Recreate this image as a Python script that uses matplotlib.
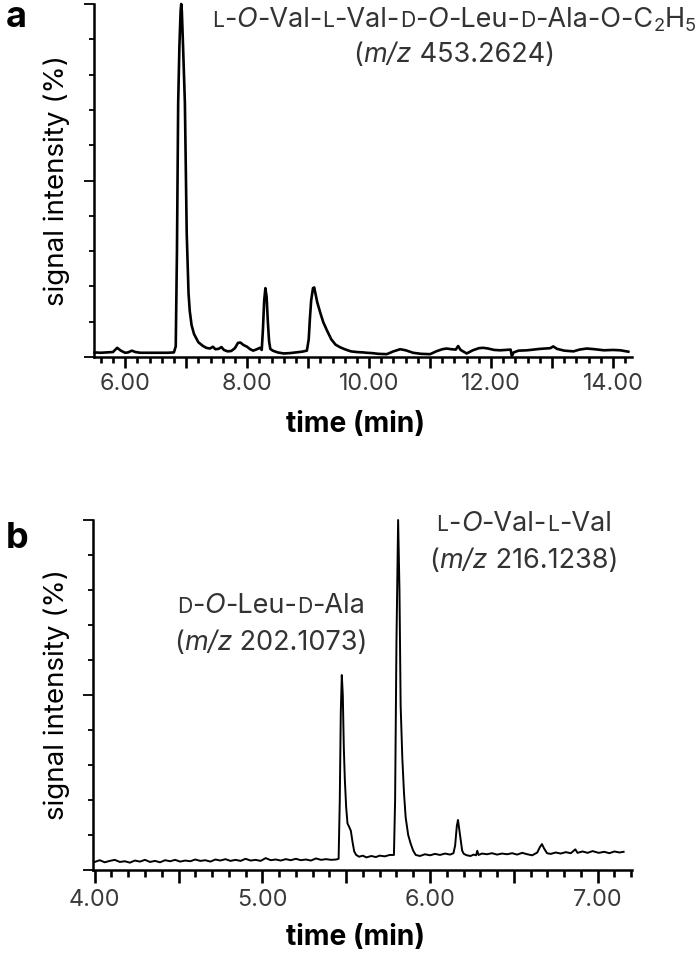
import matplotlib
matplotlib.use('Agg')
import matplotlib.pyplot as plt
from matplotlib.ticker import MultipleLocator, FuncFormatter, NullFormatter
from matplotlib.font_manager import FontProperties

FONT = 'Inter'
plt.rcParams['font.family'] = [FONT, 'DejaVu Sans']

W, H, DPI = 700, 961, 100

# ---------------- data: panel a ----------------
time_a = [5.50, 5.60, 5.70, 5.80, 5.87, 5.93, 6.00, 6.05, 6.11, 6.17, 6.25, 6.40, 6.55, 6.70,
          6.80, 6.83, 6.85, 6.87, 6.89, 6.91, 6.92, 6.93, 6.95, 6.98, 7.00, 7.01, 7.03, 7.04,
          7.06, 7.09, 7.13, 7.20, 7.27, 7.33, 7.39, 7.44, 7.48, 7.53, 7.58, 7.62, 7.68, 7.74,
          7.80, 7.85, 7.89, 7.94, 8.00, 8.05, 8.10, 8.16, 8.21, 8.24, 8.26, 8.28, 8.30, 8.32,
          8.34, 8.36, 8.38, 8.42, 8.50, 8.60, 8.70, 8.80, 8.90, 8.98, 9.01, 9.03, 9.05, 9.08,
          9.10, 9.12, 9.15, 9.20, 9.25, 9.31, 9.38, 9.45, 9.52, 9.60, 9.70, 9.80, 9.90, 9.96,
          10.05, 10.15, 10.29, 10.40, 10.51, 10.60, 10.72, 10.85, 11.00, 11.10, 11.20, 11.27,
          11.35, 11.42, 11.46, 11.50, 11.60, 11.70, 11.80, 11.87, 11.95, 12.05, 12.15, 12.25,
          12.32, 12.34, 12.37, 12.45, 12.59, 12.70, 12.80, 12.90, 12.97, 13.02, 13.08, 13.20,
          13.35, 13.45, 13.57, 13.70, 13.85, 14.00, 14.12, 14.25]
signal_a = [1.3, 1.2, 1.3, 1.4, 2.6, 1.8, 1.2, 1.3, 1.8, 1.4, 1.2, 1.2, 1.2, 1.2,
            1.3, 3.0, 30.0, 72.0, 88.0, 98.0, 100.0, 98.0, 88.0, 72.0, 48.0, 35.0, 24.0, 18.0,
            13.0, 9.0, 6.5, 4.2, 3.2, 2.6, 2.4, 2.9, 2.2, 2.3, 2.8, 2.0, 1.6, 1.7,
            2.5, 4.0, 4.1, 3.4, 2.9, 2.2, 1.8, 2.2, 2.6, 2.0, 8.0, 16.0, 19.5, 17.0,
            10.0, 4.5, 2.3, 1.8, 1.3, 1.0, 1.1, 1.3, 1.5, 1.8, 5.0, 11.0, 16.0, 19.5,
            19.7, 18.0, 15.5, 12.5, 9.8, 7.5, 5.0, 3.5, 2.8, 2.2, 1.6, 1.4, 1.3, 1.2,
            1.1, 0.9, 0.8, 1.6, 2.2, 1.9, 1.2, 0.9, 0.8, 1.6, 2.2, 2.4,
            2.2, 2.1, 3.1, 2.0, 1.0, 1.9, 2.5, 2.6, 2.4, 2.0, 1.9, 2.0,
            2.1, 0.3, 1.3, 1.8, 1.9, 2.1, 2.3, 2.4, 2.5, 3.0, 2.3, 1.8,
            1.6, 2.1, 2.4, 2.2, 1.9, 2.0, 1.9, 1.5]

# ---------------- data: panel b ----------------
time_b = [4.00, 4.03, 4.06, 4.09, 4.12, 4.15, 4.18, 4.21, 4.24, 4.27, 4.30, 4.33, 4.36, 4.39,
          4.42, 4.45, 4.48, 4.51, 4.54, 4.57, 4.60, 4.63, 4.66, 4.69, 4.72, 4.75, 4.78, 4.81,
          4.84, 4.87, 4.90, 4.93, 4.96, 4.99, 5.02, 5.05, 5.08, 5.11, 5.14, 5.17, 5.20, 5.23,
          5.26, 5.29, 5.32, 5.35, 5.38, 5.41, 5.44, 5.455, 5.462, 5.468, 5.474, 5.480, 5.486,
          5.492, 5.500, 5.508, 5.518, 5.528, 5.538, 5.548, 5.560, 5.577, 5.60, 5.62, 5.65,
          5.677, 5.70, 5.73, 5.76, 5.785, 5.792, 5.800, 5.810, 5.818, 5.825, 5.835, 5.845,
          5.855, 5.870, 5.885, 5.900, 5.915, 5.94, 5.97, 6.00, 6.03, 6.06, 6.09, 6.12, 6.140,
          6.150, 6.160, 6.167, 6.175, 6.183, 6.192, 6.202, 6.22, 6.242, 6.26, 6.275, 6.282,
          6.29, 6.31, 6.34, 6.37, 6.40, 6.43, 6.46, 6.49, 6.52, 6.55, 6.58, 6.61, 6.64, 6.655,
          6.668, 6.68, 6.698, 6.72, 6.75, 6.78, 6.81, 6.84, 6.867, 6.88, 6.91, 6.94, 6.97,
          7.006, 7.04, 7.07, 7.10, 7.13, 7.155]
signal_b = [2.3, 2.8, 2.2, 2.6, 2.9, 2.3, 2.5, 2.1, 2.7, 2.4, 2.9, 2.3, 2.6, 2.2,
            2.8, 2.5, 2.9, 2.4, 2.7, 2.5, 3.0, 2.6, 2.8, 2.4, 3.0, 2.7, 3.1, 2.6,
            2.9, 2.6, 3.2, 2.7, 2.9, 2.6, 3.4, 2.8, 3.0, 2.7, 3.1, 2.8, 3.2, 2.8,
            3.0, 2.7, 3.3, 2.9, 3.1, 2.9, 3.0, 3.2, 20.0, 45.0, 55.7, 50.0, 35.0,
            26.0, 18.0, 13.3, 12.3, 11.2, 8.0, 5.3, 4.3, 3.8, 4.1, 3.6, 4.0,
            3.7, 4.1, 3.9, 4.3, 4.3, 20.0, 65.0, 100.0, 80.0, 47.0, 32.0, 22.0,
            15.0, 10.0, 7.5, 5.5, 4.3, 4.0, 4.5, 4.2, 4.6, 4.3, 4.7, 4.4, 4.8,
            7.0, 12.5, 14.3, 11.5, 8.5, 5.5, 4.6, 4.2, 4.0, 4.4, 4.2, 5.5,
            4.3, 4.7, 4.5, 4.8, 4.4, 4.7, 4.5, 4.8, 4.4, 4.9, 4.5, 4.2, 5.0, 6.5,
            7.4, 6.2, 4.8, 4.6, 5.0, 4.7, 5.1, 4.8, 5.9, 4.9, 5.3, 4.9, 5.4,
            4.9, 5.2, 4.8, 5.3, 5.0, 5.2]

# ---------------- text ----------------
SC = 0.78   # small-caps scale
SUB = 0.68  # subscript scale
label_a_line1 = [('L', SC, 'normal', 0), ('-', 1, 'normal', 0), ('O', 1, 'italic', 0),
                 ('-Val-', 1, 'normal', 0), ('L', SC, 'normal', 0), ('-Val-', 1, 'normal', 0),
                 ('D', SC, 'normal', 0), ('-', 1, 'normal', 0), ('O', 1, 'italic', 0),
                 ('-Leu-', 1, 'normal', 0), ('D', SC, 'normal', 0), ('-Ala-O-C', 1, 'normal', 0),
                 ('2', SUB, 'normal', -0.15), ('H', 1, 'normal', 0), ('5', SUB, 'normal', -0.15)]
label_a_line2 = [('(', 1, 'normal', 0), ('m/z', 1, 'italic', 0), (' 453.2624)', 1, 'normal', 0)]
label_b1_line1 = [('D', SC, 'normal', 0), ('-', 1, 'normal', 0), ('O', 1, 'italic', 0),
                  ('-Leu-', 1, 'normal', 0), ('D', SC, 'normal', 0), ('-Ala', 1, 'normal', 0)]
label_b1_line2 = [('(', 1, 'normal', 0), ('m/z', 1, 'italic', 0), (' 202.1073)', 1, 'normal', 0)]
label_b2_line1 = [('L', SC, 'normal', 0), ('-', 1, 'normal', 0), ('O', 1, 'italic', 0),
                  ('-Val-', 1, 'normal', 0), ('L', SC, 'normal', 0), ('-Val', 1, 'normal', 0)]
label_b2_line2 = [('(', 1, 'normal', 0), ('m/z', 1, 'italic', 0), (' 216.1238)', 1, 'normal', 0)]

TICK_COLOR = '#3a3a3a'
ANNO_COLOR = '#333333'
TICK_SIZE = 16.8
ANNO_SIZE = 19.5
XLAB_SIZE = 20.3
YLAB_SIZE = 20
PANEL_SIZE = 26

fig = plt.figure(figsize=(W / DPI, H / DPI), dpi=DPI)


def px_axes(l, t, r, b):
    return fig.add_axes([l / W, 1 - b / H, (r - l) / W, (b - t) / H])


def style_axes(ax, xlim, minor, major, label_step, maj_len, min_len, pad):
    ax.set_xlim(*xlim)
    ax.set_ylim(0, 100)
    for s in ['top', 'right']:
        ax.spines[s].set_visible(False)
    for s in ['left', 'bottom']:
        ax.spines[s].set_linewidth(1.8)
    ax.xaxis.set_major_locator(MultipleLocator(major))
    ax.xaxis.set_minor_locator(MultipleLocator(minor))

    def fmt(v, p):
        k = v / label_step
        return f'{v:.2f}' if abs(k - round(k)) < 1e-6 else ''
    ax.xaxis.set_major_formatter(FuncFormatter(fmt))
    ax.yaxis.set_major_locator(MultipleLocator(50))
    ax.yaxis.set_minor_locator(MultipleLocator(10))
    ax.yaxis.set_major_formatter(NullFormatter())
    ax.tick_params(axis='x', which='major', direction='out', length=maj_len, width=1.9,
                   labelsize=TICK_SIZE, pad=pad, labelcolor=TICK_COLOR)
    ax.tick_params(axis='x', which='minor', direction='out', length=min_len, width=1.9)
    ax.tick_params(axis='y', which='major', direction='out', length=7, width=1.3)
    ax.tick_params(axis='y', which='minor', direction='out', length=3.5, width=1.3)


ax_a = px_axes(94, 4, 632, 357)
ax_b = px_axes(93, 520, 632, 870)

ax_a.plot(time_a, signal_a, color='black', lw=1.9, clip_on=False)
ax_b.plot(time_b, signal_b, color='black', lw=1.4, clip_on=False)

style_axes(ax_a, (5.49, 14.31), 0.2, 1.0, 2.0, 8, 4.3, 3.3)
style_axes(ax_b, (3.99, 7.205), 0.1, 0.5, 1.0, 9, 5, 4.8)

renderer = fig.canvas.get_renderer()


def rich_line(pieces, xc, yb, size, color):
    widths = []
    for s, sc, st, dy in pieces:
        fp = FontProperties(family=[FONT, 'DejaVu Sans'], size=size * sc, style=st)
        w1, _, _ = renderer.get_text_width_height_descent('H' + s + 'H', fp, ismath=False)
        w2, _, _ = renderer.get_text_width_height_descent('HH', fp, ismath=False)
        widths.append(w1 - w2)
    x = xc - sum(widths) / 2
    for (s, sc, st, dy), w in zip(pieces, widths):
        y = yb - dy * size * DPI / 72
        fig.text(x / W, 1 - y / H, s, fontsize=size * sc, style=st, ha='left',
                 va='baseline', color=color)
        x += w


rich_line(label_a_line1, 454, 27, ANNO_SIZE, ANNO_COLOR)
rich_line(label_a_line2, 454, 62, ANNO_SIZE, ANNO_COLOR)
rich_line(label_b1_line1, 271, 613, ANNO_SIZE, ANNO_COLOR)
rich_line(label_b1_line2, 271, 650, ANNO_SIZE, ANNO_COLOR)
rich_line(label_b2_line1, 524, 531, ANNO_SIZE, ANNO_COLOR)
rich_line(label_b2_line2, 524, 568, ANNO_SIZE, ANNO_COLOR)

# axis labels
fig.text(356 / W, 1 - 432 / H, 'time (min)', fontsize=XLAB_SIZE, fontweight='bold',
         ha='center', va='baseline', color='black')
fig.text(356 / W, 1 - 945 / H, 'time (min)', fontsize=XLAB_SIZE, fontweight='bold',
         ha='center', va='baseline', color='black')
fig.text(57 / W, 1 - 180.5 / H, 'signal intensity (%)', fontsize=YLAB_SIZE, rotation=90,
         ha='center', va='center', color='black')
fig.text(57 / W, 1 - 695 / H, 'signal intensity (%)', fontsize=YLAB_SIZE, rotation=90,
         ha='center', va='center', color='black')

# panel letters
fig.text(6 / W, 1 - 27 / H, 'a', fontsize=PANEL_SIZE, fontweight='bold', ha='left',
         va='baseline', color='black')
fig.text(6 / W, 1 - 548 / H, 'b', fontsize=PANEL_SIZE, fontweight='bold', ha='left',
         va='baseline', color='black')

fig.savefig('out.png', dpi=DPI)
